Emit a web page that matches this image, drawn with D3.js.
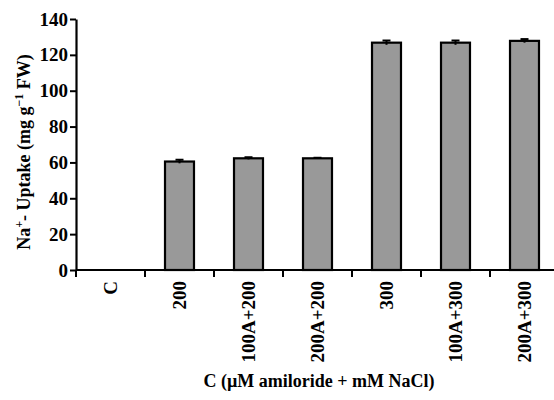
<!DOCTYPE html>
<html><head><meta charset="utf-8">
<script src="https://cdn.jsdelivr.net/npm/d3@7"></script>
<style>body{margin:0;background:#fff}svg{display:block}text{font-family:"Liberation Serif","Times New Roman",serif;font-weight:bold;fill:#000}</style>
</head><body>
<script>
const categories = ["C","200","100A+200","200A+200","300","100A+300","200A+300"];
const values = [0, 60.5, 62.3, 62.3, 126.8, 126.8, 127.8];
const errors = [0, 1.0, 0.6, 0.3, 1.2, 1.2, 1.0];
const yTicks = [0,20,40,60,80,100,120,140];

const W=554,H=400;
const svg=d3.select("body").append("svg").attr("width",W).attr("height",H);
const x=d3.scaleBand().domain(categories).range([76,559]).paddingInner(0.58).paddingOuter(0.29);
const y=d3.scaleLinear().domain([0,140]).range([270,19]);

// bars
svg.selectAll("rect.bar").data(categories).enter().append("rect")
 .attr("x",d=>x(d)).attr("width",x.bandwidth())
 .attr("y",(d,i)=>y(values[i])).attr("height",(d,i)=>y(0)-y(values[i]))
 .attr("fill","#999999").attr("stroke","#000").attr("stroke-width",2.2);
// error bars
categories.forEach((d,i)=>{
 if(!errors[i])return;
 const cx=x(d)+x.bandwidth()/2;
 svg.append("line").attr("x1",cx).attr("x2",cx).attr("y1",y(values[i]+errors[i])).attr("y2",y(values[i]-errors[i])).attr("stroke","#000").attr("stroke-width",2);
 svg.append("line").attr("x1",cx-4).attr("x2",cx+4).attr("y1",y(values[i]+errors[i])).attr("y2",y(values[i]+errors[i])).attr("stroke","#000").attr("stroke-width",2);
});

// y axis
const ya=svg.append("g").attr("transform","translate(76,0)")
 .call(d3.axisLeft(y).tickValues(yTicks).tickSize(6).tickSizeOuter(0).tickPadding(2));
ya.select(".domain").attr("stroke-width",2.2);
ya.selectAll(".tick line").attr("stroke-width",2);
ya.selectAll(".tick text").style("font-size","19px");

// x axis
const xa=svg.append("g").attr("transform","translate(0,270)")
 .call(d3.axisBottom(x).tickSize(0).tickSizeOuter(0));
xa.select(".domain").attr("d","M76,0H554").attr("stroke-width",2.2);
xa.selectAll(".tick text").style("font-size","19px")
 .attr("transform","rotate(-90)").attr("text-anchor","end").attr("x",-11).attr("y",0).attr("dy","0.35em");
// category boundary ticks
const bounds=d3.range(categories.length).map(i=>76+i*x.step());
svg.selectAll("line.bt").data(bounds).enter().append("line")
 .attr("x1",d=>d).attr("x2",d=>d).attr("y1",270).attr("y2",277).attr("stroke","#000").attr("stroke-width",2);

// axis titles
svg.append("text").attr("x",319).attr("y",387).attr("text-anchor","middle").style("font-size","18px")
 .text("C (µM amiloride + mM NaCl)");
const yl=svg.append("text").attr("transform","translate(30,152) rotate(-90)").attr("text-anchor","middle").style("font-size","18px");
yl.append("tspan").text("Na");
yl.append("tspan").attr("dy",-7).style("font-size","12px").text("+");
yl.append("tspan").attr("dy",7).text("- Uptake (mg g");
yl.append("tspan").attr("dy",-7).style("font-size","12px").text("\u22121");
yl.append("tspan").attr("dy",7).text(" FW)");
</script>
</body></html>
